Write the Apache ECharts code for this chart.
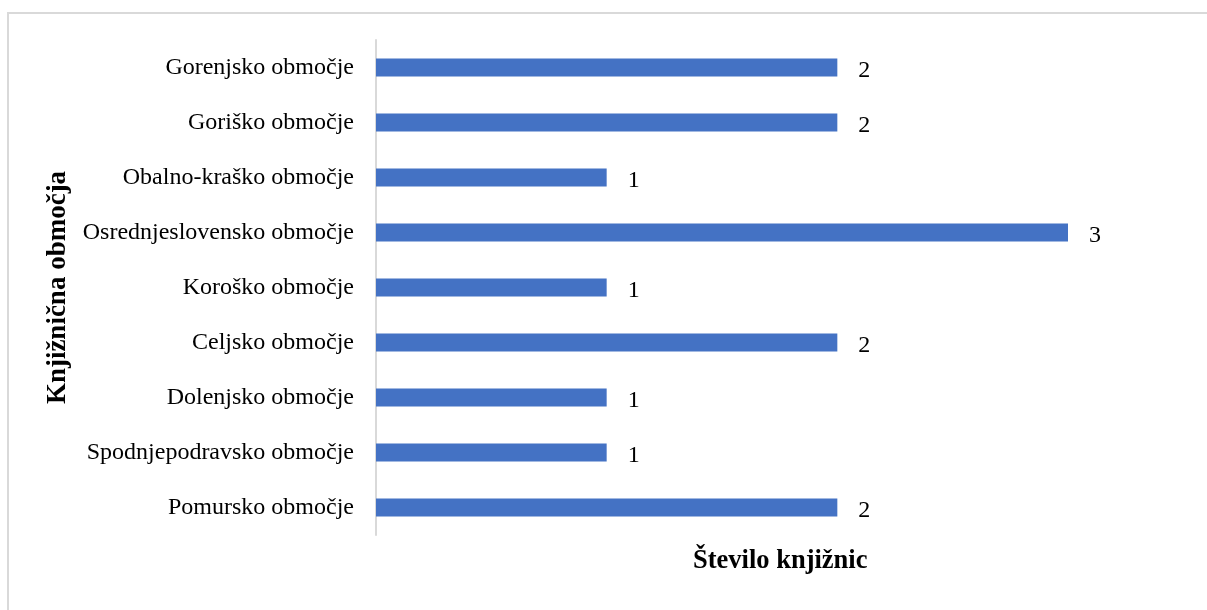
<!DOCTYPE html>
<html>
<head>
<meta charset="utf-8" />
<title>Število knjižnic</title>
<style>
  html, body { margin: 0; padding: 0; background: #fff; }
  #frame { position: absolute; left: 7px; top: 12px; width: 1220px; height: 620px; border: 2px solid #d9d9d9; box-sizing: border-box; }
  #main { position: absolute; left: 0; top: 0; width: 1207px; height: 610px; }
</style>
</head>
<body>
<div id="frame"></div>
<div id="main"></div>
<script src="https://cdn.jsdelivr.net/npm/echarts@6/dist/echarts.min.js"></script>
<script>
// podatki (od spodaj navzgor)
var obmocja = [
    'Pomursko območje',
    'Spodnjepodravsko območje',
    'Dolenjsko območje',
    'Celjsko območje',
    'Koroško območje',
    'Osrednjeslovensko območje',
    'Obalno-kraško območje',
    'Goriško območje',
    'Gorenjsko območje'
];
var steviloKnjiznic = [2, 1, 1, 2, 1, 3, 1, 2, 2];

var myChart = echarts.init(document.getElementById('main'));
var font = '"Liberation Serif", "Times New Roman", serif';

var option = {
    animation: false,
    title: {
        text: 'Število knjižnic',
        left: 693,
        top: 548,
        padding: 0,
        textStyle: { fontFamily: font, fontSize: 26.5, fontWeight: 'bold', color: '#000' }
    },
    grid: { left: 376, right: 139, top: 40, bottom: 75, containLabel: false },
    xAxis: {
        type: 'value',
        min: 0,
        max: 3,
        axisLine: { show: false },
        axisTick: { show: false },
        axisLabel: { show: false },
        splitLine: { show: false }
    },
    yAxis: {
        type: 'category',
        data: obmocja,
        axisLine: { show: true, lineStyle: { color: '#d9d9d9', width: 2 } },
        axisTick: { show: false },
        axisLabel: { fontFamily: font, fontSize: 24, color: '#000', margin: 22, padding: [5, 0, 0, 0] },
        name: 'Knjižnična območja',
        nameLocation: 'middle',
        nameGap: 302,
        nameRotate: 90,
        nameTextStyle: { fontFamily: font, fontSize: 27, fontWeight: 'bold', color: '#000' }
    },
    series: [{
        type: 'bar',
        data: steviloKnjiznic,
        barWidth: 18,
        itemStyle: { color: '#4472C4' },
        label: {
            show: true,
            position: 'right',
            distance: 21,
            offset: [0, 3],
            fontFamily: font,
            fontSize: 24,
            color: '#000'
        }
    }]
};

myChart.setOption(option);
</script>
</body>
</html>
